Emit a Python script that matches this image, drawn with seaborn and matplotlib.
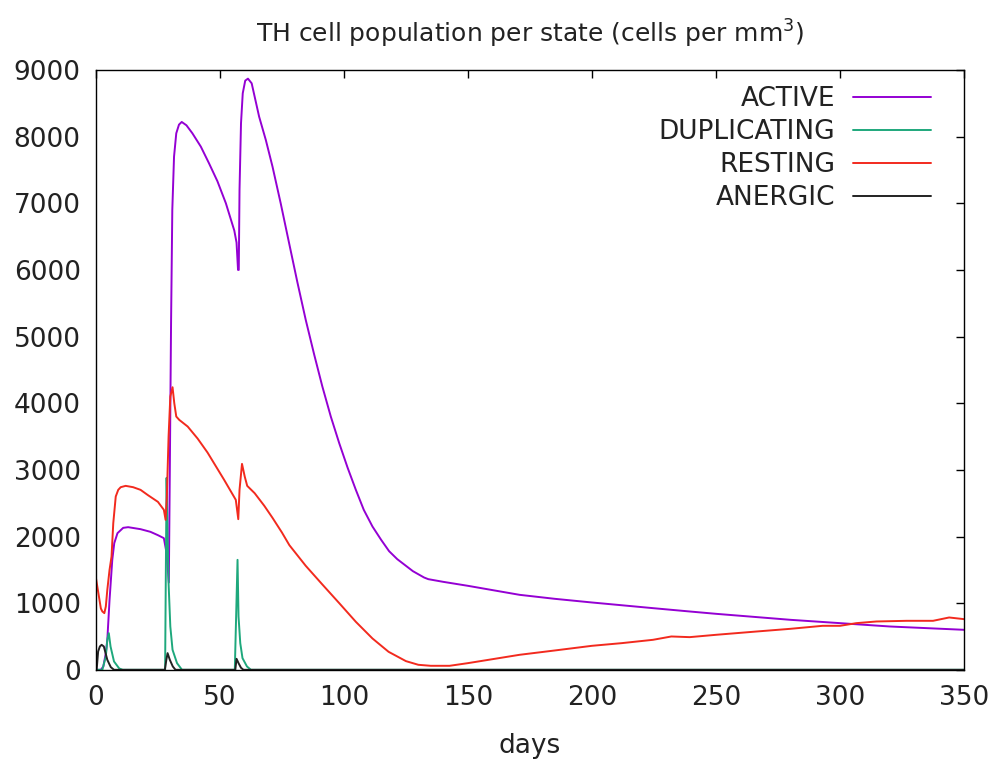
import matplotlib
matplotlib.use("Agg")
from matplotlib import pyplot as plt
import seaborn as sns

# values (days, cells per mm3)
active_days = [0, 2, 3, 4, 4.6, 5.5, 6.6, 7.4, 8.7, 11, 13, 18, 22, 25, 27.4, 28.5,
               29.4, 29.8, 30.3, 30.8, 31.5, 32.4, 33.5, 34.6, 36.5, 38.9, 42.3, 45.6,
               49, 52.4, 55.8, 56.7, 57.3, 57.6, 57.9, 58.5, 59.2, 60.2, 61.3, 62.8,
               65.8, 68.5, 71.2, 74.5, 77.9, 81.2, 84.6, 88, 91.3, 94.7, 98.1, 101.5,
               104.8, 108, 111.5, 115, 118.2, 121.5, 125, 127.8, 130.4, 132.3, 134,
               137, 140, 150, 160, 170.8, 185, 200, 224.6, 239.4, 250, 280, 300, 320, 350]
active = [0, 0, 50, 250, 450, 1050, 1650, 1900, 2050, 2130, 2140, 2110, 2070, 2020, 1975, 1750,
          1310, 3000, 5200, 6900, 7700, 8050, 8180, 8220, 8170, 8050, 7850, 7600,
          7330, 7000, 6590, 6410, 6000, 6000, 7200, 8200, 8650, 8840, 8870, 8800,
          8300, 7950, 7550, 7000, 6400, 5820, 5250, 4730, 4250, 3800, 3400, 3030,
          2700, 2400, 2150, 1950, 1780, 1660, 1560, 1480, 1425, 1385, 1360,
          1340, 1320, 1260, 1195, 1125, 1065, 1010, 925, 875, 840, 750, 700, 650, 600]

dup_days = [0, 2.6, 4, 4.6, 5.2, 5.9, 7.3, 9.4, 10.8, 27.9, 28.2, 28.5, 28.9, 29.3, 30,
            30.9, 32.7, 34.7, 56, 56.6, 57.1, 57.5, 58.2, 59.1, 60.9, 62.5, 350]
duplicating = [0, 0, 200, 450, 550, 350, 125, 20, 0, 0, 1500, 2880, 2000, 1300, 650,
               300, 100, 0, 0, 900, 1650, 800, 400, 175, 50, 0, 0]

rest_days = [0, 1, 2, 2.6, 3.4, 4, 4.6, 5.5, 6.3, 7, 8, 9, 10, 12, 15, 18, 21, 25, 27.4,
             28.1, 28.6, 29.3, 30, 30.9, 31.6, 32.4, 33.6, 37, 41, 45, 51.7, 56.4, 57.4,
             57.9, 58.9, 60, 61, 64, 67.9, 71.2, 75, 78, 84.6, 91.3, 98.1, 104.8, 111.5,
             118, 125, 130, 135, 142.6, 150, 160, 170.8, 185, 200, 212, 224.6, 232,
             239.4, 250, 266.5, 280, 293, 300, 306.6, 314.7, 326.8, 337.5, 344, 350]
resting = [1380, 1150, 920, 875, 850, 950, 1200, 1500, 1700, 2200, 2600, 2700, 2740, 2760,
           2740, 2700, 2620, 2520, 2400, 2250, 2600, 3500, 4100, 4240, 4000, 3800, 3750,
           3650, 3470, 3260, 2850, 2550, 2260, 2700, 3090, 2900, 2760, 2650, 2460, 2280,
           2060, 1870, 1560, 1280, 1000, 720, 470, 270, 130, 75, 60, 60, 100, 160, 225, 290,
           360, 400, 450, 500, 490, 525, 575, 615, 660, 660, 700, 725, 735, 735, 785, 760]

anergic_days = [0, 0.3, 0.9, 1.6, 2.3, 3.2, 4.6, 6, 7.3, 27.8, 28.4, 28.9, 29.8, 31, 32.1,
                56.2, 56.7, 57.5, 58.5, 59.5, 350]
anergic = [0, 0, 275, 350, 375, 350, 150, 40, 0, 0, 150, 250, 150, 50, 0,
           0, 165, 100, 30, 0, 0]

series = [
    ("ACTIVE", active_days, active, "#9400d3"),
    ("DUPLICATING", dup_days, duplicating, "#1ea87c"),
    ("RESTING", rest_days, resting, "#f22a1e"),
    ("ANERGIC", anergic_days, anergic, "#222222"),
]

sns.set_style("white")
plt.rcParams["font.family"] = ["DejaVu Sans"]

fig = plt.figure(figsize=(9.99, 7.69), dpi=100)
ax = fig.add_axes([0.096, 0.129, 0.869, 0.780])

for name, d, v, c in series:
    sns.lineplot(x=d, y=v, color=c, label=name, linewidth=1.4, ax=ax)

ax.set_xlim(0, 350)
ax.set_ylim(0, 9000)
ax.set_xticks(range(0, 351, 50))
ax.set_yticks(range(0, 9001, 1000))
for s in ax.spines.values():
    s.set_color("black")
    s.set_linewidth(1.0)
ax.tick_params(direction="in", top=True, right=True, length=6, width=1,
               labelsize=19, colors="black", pad=11)
for lab in ax.get_xticklabels() + ax.get_yticklabels():
    lab.set_color("#222222")

ax.set_title("TH cell population per state (cells per mm$^3$)", fontsize=18,
             pad=20, color="#222222")
ax.set_xlabel("days", fontsize=19, labelpad=16, color="#222222")
ax.set_ylabel("")

leg = ax.legend(loc="upper right", bbox_to_anchor=(0.962, 0.973), frameon=False,
                markerfirst=False, fontsize=19, handlelength=2.95,
                handletextpad=0.68, labelspacing=0.26, borderpad=0,
                borderaxespad=0)
for t in leg.get_texts():
    t.set_color("#222222")

fig.savefig("out.png", dpi=100)
